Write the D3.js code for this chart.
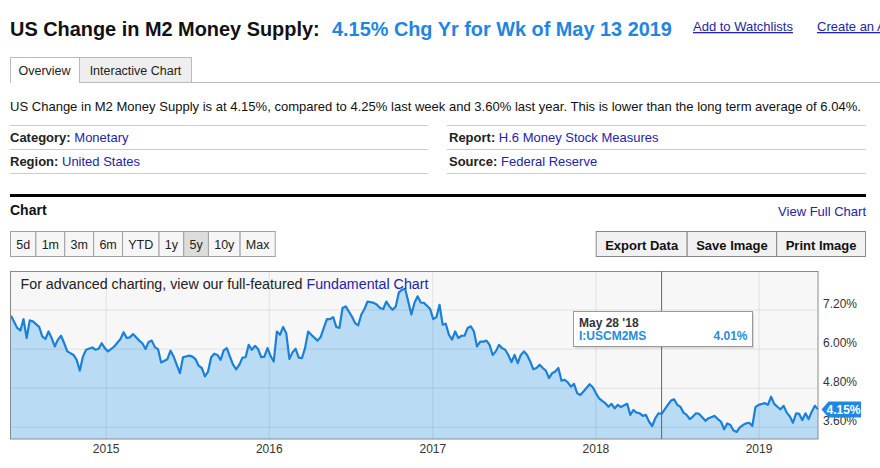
<!DOCTYPE html>
<html><head><meta charset="utf-8">
<script src="https://cdn.jsdelivr.net/npm/d3@7"></script>
<style>
html,body{margin:0;padding:0;background:#fff;}
svg{display:block;font-family:"Liberation Sans",Arial,Helvetica,sans-serif;}
</style></head><body>
<svg id="c" width="880" height="468"></svg>
<script>
// ---------- data ----------
const titleMain = "US Change in M2 Money Supply:";
const titleValue = "4.15% Chg Yr for Wk of May 13 2019";
const description = "US Change in M2 Money Supply is at 4.15%, compared to 4.25% last week and 3.60% last year. This is lower than the long term average of 6.04%.";
const START = "2014-06-02";   // first weekly observation
const END = "2019-05-13";     // last weekly observation
// weeks since START
const weeks = [0,2,3,4,5,6,7,9,10,11,12,13,14,15,16,17,18,20,21,22,23,24,26,27,28,29,30,31,33,35,36,37,38,39,41,42,43,44,45,46,47,48,50,51,52,54,55,57,58,59,60,61,62,63,64,65,66,67,68,69,70,71,72,73,74,75,76,77,78,79,80,81,82,83,84,85,86,87,88,89,90,91,92,93,94,95,96,98,99,100,101,102,103,104,105,106,107,109,110,111,112,113,114,116,117,118,119,120,121,122,123,124,125,126,127,128,129,130,131,132,133,134,135,136,137,138,139,140,141,142,143,144,145,146,147,148,149,150,151,152,153,154,155,156,157,158,159,160,161,162,163,164,165,166,167,168,169,170,171,172,173,174,175,176,177,178,179,180,181,182,183,185,186,187,188,189,190,191,192,193,194,195,197,198,199,200,201,202,203,204,205,206,207,208,210,211,212,213,214,215,216,217,218,219,220,221,222,223,225,226,227,228,229,230,231,232,233,234,235,236,237,238,239,241,242,243,244,245,246,247,248,249,250,251,252,253,254,255,256,257,258];
// yoy % change
const values = [7.02,6.65,6.57,6.92,6.34,6.88,6.85,6.68,6.39,6.31,6.54,6.34,6.08,6.29,6.41,6.18,5.93,5.82,5.67,5.34,5.77,5.98,6.05,5.98,6.01,6.18,6.03,5.93,6.08,6.31,6.52,6.34,6.36,6.46,6.26,6.18,6.00,6.22,6.26,6.06,6.00,5.59,5.69,5.95,5.77,5.26,5.75,5.80,5.77,5.69,5.49,5.42,5.16,5.31,5.75,5.86,5.82,5.67,5.96,6.03,5.77,5.52,5.38,5.52,5.74,5.75,6.13,5.98,6.10,6.00,5.75,5.77,6.03,5.79,5.62,6.54,6.44,6.68,6.49,5.70,5.90,6.01,5.74,5.72,6.03,6.54,6.44,6.26,6.37,6.65,6.92,6.92,6.98,6.68,6.65,7.26,7.31,7.00,6.80,6.73,7.06,7.23,7.46,7.42,7.36,7.26,7.23,7.46,7.31,7.21,7.31,7.74,7.82,7.85,7.46,7.06,7.42,7.62,7.43,7.42,7.33,7.23,6.92,6.98,7.36,6.75,6.78,6.44,6.29,6.54,6.34,6.41,6.41,6.65,6.70,6.54,6.08,6.23,6.23,6.26,6.13,5.82,5.93,6.13,6.03,5.98,5.82,5.60,5.82,5.57,5.82,5.93,5.82,5.62,5.38,5.42,5.52,5.42,5.34,5.11,5.26,5.31,5.42,5.03,5.06,4.98,4.85,4.93,4.65,4.59,4.70,4.92,4.83,4.65,4.49,4.41,4.34,4.23,4.32,4.18,4.29,4.22,4.32,3.98,4.13,4.05,4.03,3.95,3.98,3.77,3.64,3.88,4.03,4.01,4.29,4.42,4.46,4.29,4.23,4.05,3.98,3.85,3.93,4.03,4.01,3.91,3.80,3.88,3.95,3.85,3.77,3.54,3.72,3.67,3.50,3.46,3.60,3.67,3.72,3.74,3.64,4.22,4.29,4.34,4.29,4.54,4.32,4.23,4.15,4.26,4.05,3.93,3.74,4.03,4.01,3.82,4.03,3.85,4.08,4.26,4.15];
const yTicks = [3.6, 4.8, 6.0, 7.2];
const yearTicks = [2015, 2016, 2017, 2018, 2019];
const rangeButtons = ["5d","1m","3m","6m","YTD","1y","5y","10y","Max"];
const selectedRange = "5y";
const actionButtons = ["Export Data","Save Image","Print Image"];
const infoLeft = [["Category:","Monetary"],["Region:","United States"]];
const infoRight = [["Report:","H.6 Money Stock Measures"],["Source:","Federal Reserve"]];
const tooltipWeek = 208;
const tooltipLabel = "May 28 '18";
const seriesId = "I:USCM2MS";

// ---------- helpers ----------
const svg = d3.select("#c");
const LINK = "#2424a6";
const BLUE = "#1f86df";
function fit(t, w){
  const L = t.node().getComputedTextLength();
  t.attr("font-size", parseFloat(t.attr("font-size")) * w / L);
  return t;
}
const parse = d3.timeParse("%Y-%m-%d");
const start = parse(START);
const data = weeks.map((w,i)=>({date: d3.timeDay.offset(start, 7*w), v: values[i]}));

// ---------- header ----------
fit(svg.append("text").attr("x",10).attr("y",36).attr("font-size",20).attr("font-weight","bold").attr("fill","#111").text(titleMain), 310);
fit(svg.append("text").attr("x",332).attr("y",36).attr("font-size",20).attr("font-weight","bold").attr("fill",BLUE).text(titleValue), 340);
svg.append("text").attr("x",693).attr("y",31).attr("font-size",13).attr("fill",LINK).attr("text-decoration","underline").text("Add to Watchlists");
svg.append("text").attr("x",817).attr("y",31).attr("font-size",13).attr("fill",LINK).attr("text-decoration","underline").text("Create an Alert");

// tabs
svg.append("line").attr("x1",79).attr("x2",880).attr("y1",82.5).attr("y2",82.5).attr("stroke","#bbb");
svg.append("rect").attr("x",79.5).attr("y",57.5).attr("width",112).attr("height",25).attr("fill","#eee").attr("stroke","#bbb");
svg.append("path").attr("d","M10.5,83V57.5H79.5V83").attr("fill","#fff").attr("stroke","#bbb");
svg.append("text").attr("x",44.5).attr("y",75).attr("text-anchor","middle").attr("font-size",12.5).attr("fill","#222").text("Overview");
svg.append("text").attr("x",135.5).attr("y",75).attr("text-anchor","middle").attr("font-size",12.5).attr("fill","#222").text("Interactive Chart");

// description
fit(svg.append("text").attr("x",10).attr("y",111).attr("font-size",12.5).attr("fill","#111").text(description), 852);

// info rows
[[10,428,infoLeft,10],[447,866,infoRight,449]].forEach(([x1,x2,rows,tx])=>{
  [125.5,149.5,173.5].forEach(y=>svg.append("line").attr("x1",x1).attr("x2",x2).attr("y1",y).attr("y2",y).attr("stroke","#ccc"));
  rows.forEach((r,i)=>{
    const t = svg.append("text").attr("x",tx).attr("y",142+24*i).attr("font-size",13);
    t.append("tspan").attr("font-weight","bold").attr("fill","#222").text(r[0]+" ");
    t.append("tspan").attr("fill",LINK).text(r[1]);
  });
});

// thick rule
svg.append("rect").attr("x",10).attr("y",194).attr("width",856).attr("height",3).attr("fill","#000");
svg.append("text").attr("x",10).attr("y",215).attr("font-size",14).attr("font-weight","bold").attr("fill","#111").text("Chart");
svg.append("text").attr("x",866).attr("y",216).attr("text-anchor","end").attr("font-size",13).attr("fill",LINK).text("View Full Chart");

// range buttons
let bx = 10.5;
rangeButtons.forEach(b=>{
  const g = svg.append("g");
  const r = g.append("rect").attr("y",231.5).attr("height",25).attr("stroke","#a0a0a0")
    .attr("fill", b===selectedRange ? "#dcdcdc" : "#f6f6f6");
  const t = g.append("text").attr("y",249).attr("font-size",12.5).attr("fill","#222").attr("text-anchor","middle").text(b);
  const w = t.node().getComputedTextLength() + 11.5;
  r.attr("x",bx).attr("width",w);
  t.attr("x",bx + w/2);
  bx += w;
});
// action buttons (right aligned)
const ag = svg.append("g");
const items = actionButtons.map(b=>{
  const r = ag.append("rect").attr("y",231.5).attr("height",25).attr("fill","#f1f1f1").attr("stroke","#888");
  const t = ag.append("text").attr("y",249.5).attr("font-size",13).attr("font-weight","bold").attr("fill","#111").attr("text-anchor","middle").text(b);
  return {r,t,w:t.node().getComputedTextLength()+18};
});
let ax = 865.5 - d3.sum(items,d=>d.w);
items.forEach(d=>{ d.r.attr("x",ax).attr("width",d.w); d.t.attr("x",ax+d.w/2); ax += d.w; });

// ---------- chart ----------
const L = 10.5, R = 818, T = 271.5, B = 439;
svg.append("rect").attr("x",L).attr("y",T).attr("width",R-L).attr("height",B-T).attr("fill","#f7f7f7");
const x = d3.scaleTime().domain([start, parse(END)]).range([L+0.5, R]);
const y = d3.scaleLinear().domain([3.6, 7.2]).range([427.3, 310]);

svg.append("path").datum(data)
  .attr("d", d3.area().x(d=>x(d.date)).y0(B).y1(d=>y(d.v)))
  .attr("fill","#b9dbf4");

// gridlines
svg.append("g").selectAll("line").data(yTicks).join("line")
  .attr("x1",L).attr("x2",R).attr("y1",d=>y(d)).attr("y2",d=>y(d))
  .attr("stroke","rgba(0,0,0,0.085)");
svg.append("g").selectAll("line").data(yearTicks).join("line")
  .attr("x1",d=>x(new Date(d,0,1))).attr("x2",d=>x(new Date(d,0,1)))
  .attr("y1",T).attr("y2",B).attr("stroke","rgba(0,0,0,0.085)");

svg.append("path").datum(data)
  .attr("d", d3.line().x(d=>x(d.date)).y(d=>y(d.v)))
  .attr("fill","none").attr("stroke","#1a80d8").attr("stroke-width",2.2).attr("stroke-linejoin","round");

// frame
svg.append("rect").attr("x",L).attr("y",T).attr("width",R-L).attr("height",B-T).attr("fill","none").attr("stroke","#8a8a8a");

// advanced charting note
const note = svg.append("text").attr("x",20.5).attr("y",288.5).attr("font-size",14).attr("fill","#222");
note.append("tspan").text("For advanced charting, view our full-featured ");
note.append("tspan").attr("fill",LINK).text("Fundamental Chart");
fit(note, 408);

// axes labels
svg.append("g").selectAll("text").data(yTicks).join("text")
  .attr("x",823).attr("y",d=>y(d)-2.5).attr("font-size",12).attr("fill","#333")
  .text(d=>d3.format(".2f")(d)+"%");
svg.append("g").selectAll("text").data(yearTicks).join("text")
  .attr("x",d=>x(new Date(d,0,1))).attr("y",453).attr("text-anchor","middle").attr("font-size",12).attr("fill","#333")
  .text(d=>d);

// crosshair + tooltip
const tp = data.find(d=>weeks[data.indexOf(d)]===tooltipWeek);
const cx = x(tp.date);
svg.append("line").attr("x1",cx).attr("x2",cx).attr("y1",T).attr("y2",B).attr("stroke","#666");
svg.append("rect").attr("x",575).attr("y",313.5).attr("width",179).attr("height",35).attr("fill","rgba(0,0,0,0.12)");
svg.append("rect").attr("x",573.5).attr("y",311.5).attr("width",179).attr("height",35).attr("fill","#fff").attr("stroke","#999");
svg.append("text").attr("x",579).attr("y",326.5).attr("font-size",12).attr("font-weight","bold").attr("fill","#333").text(tooltipLabel);
svg.append("text").attr("x",579).attr("y",340).attr("font-size",12).attr("font-weight","bold").attr("fill","#2a8ae0").text(seriesId);
svg.append("text").attr("x",747.5).attr("y",340).attr("text-anchor","end").attr("font-size",12).attr("font-weight","bold").attr("fill","#2a8ae0").text(d3.format(".2f")(tp.v)+"%");

// current value flag
const last = data[data.length-1];
const fy = y(last.v);
svg.append("path").attr("d",`M821.5,${fy}L828.5,${fy-8}H861V${fy+8}H828.5Z`).attr("fill","#1e88e5");
svg.append("text").attr("x",843.5).attr("y",fy+4.5).attr("text-anchor","middle").attr("font-size",12).attr("font-weight","bold").attr("fill","#fff").text(d3.format(".2f")(last.v)+"%");
</script>
</body></html>
